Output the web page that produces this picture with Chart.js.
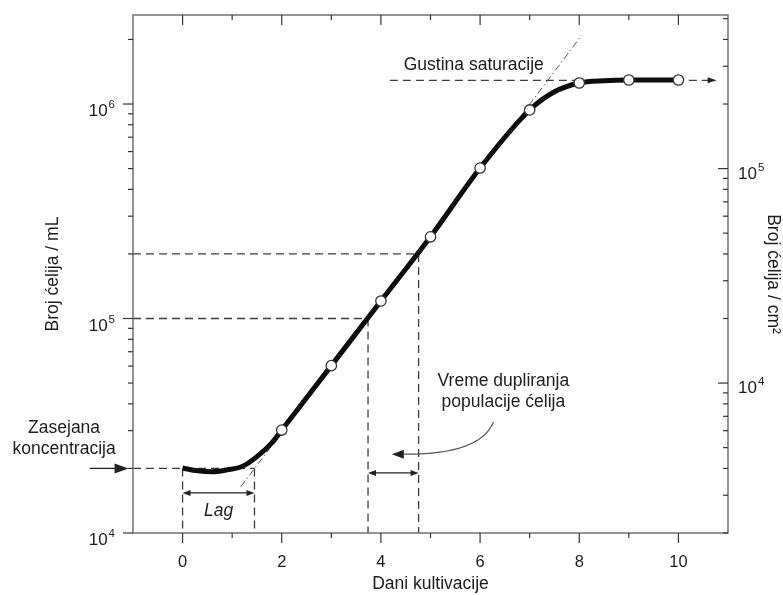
<!DOCTYPE html>
<html>
<head>
<meta charset="utf-8">
<script src="https://cdn.jsdelivr.net/npm/chart.js@4.4.1/dist/chart.umd.min.js"></script>
<style>
  html, body { margin: 0; padding: 0; background: #fff; }
  #wrap { width: 783px; height: 595px; }
</style>
</head>
<body>
<div id="wrap"><canvas id="chart" width="783" height="595"></canvas></div>
<script>
// measured counts (open circles), days of culture
const days = [2, 3, 4, 5, 6, 7, 8, 9, 10];
const cells = [30200, 60300, 120700, 240400, 503000, 938000, 1253000, 1294000, 1294000];

// thick growth curve
const curveDays = [0, 0.3, 0.6, 0.9, 1.2, 1.5, 1.8, 2, 3, 4, 5, 6, 7, 7.5, 8, 8.5, 9, 10];
const curveCells = [20100, 19500, 19300, 19700, 20400, 22700, 26300, 30200, 60300, 120700, 240400, 503000, 938000, 1140000, 1253000, 1285000, 1294000, 1294000];

// dash-dot tangent to the log phase
const tangentDays = [1.17, 8.05];
const tangentCells = [16400, 2090000];

// guide levels
const seedLevel = 20000;
const lagEnd = 1.45;
const doublingDays = [3.74, 4.76];
const doublingCells = [100000, 200000];
const saturationLevel = 1290000;
const saturationDays = [4.18, 10.77];

// axis ticks
const xTicks = [0, 2, 4, 6, 8, 10];
const leftLabels = [1e4, 1e5, 1e6];
const rightLabels = [1e4, 1e5];

const FONT = "'Liberation Sans', Arial, Helvetica, sans-serif";
const INK = '#1c1c1c';
const TXT = 17.5;
Chart.defaults.font.family = FONT;
Chart.defaults.font.size = 16;
Chart.defaults.color = INK;

function seg(x0, y0, x1, y1) {
    return [{ x: x0, y: y0 }, { x: x1, y: y1 }];
}

const guide = { borderColor: '#3c3c3c', borderWidth: 1.3, borderDash: [8, 5], pointRadius: 0, fill: false };

function line(ctx, x0, y0, x1, y1) {
    ctx.beginPath();
    ctx.moveTo(x0, y0);
    ctx.lineTo(x1, y1);
    ctx.stroke();
}

function head(ctx, x, y, ang, len, half) {
    ctx.save();
    ctx.translate(x, y);
    ctx.rotate(ang);
    ctx.beginPath();
    ctx.moveTo(0, 0);
    ctx.lineTo(-len, -half);
    ctx.lineTo(-len, half);
    ctx.closePath();
    ctx.fill();
    ctx.restore();
}

function doubleArrow(ctx, x0, x1, y) {
    line(ctx, x0 + 4, y, x1 - 4, y);
    head(ctx, x0, y, Math.PI, 8, 3);
    head(ctx, x1, y, 0, 8, 3);
}

function power(ctx, x, y, exp, alignRight, dy) {
    ctx.font = '17px ' + FONT;
    const wBase = ctx.measureText('10').width;
    ctx.font = '11.5px ' + FONT;
    const wExp = ctx.measureText(String(exp)).width;
    const x0 = alignRight ? x - wBase - wExp - 1 : x;
    ctx.textAlign = 'left';
    ctx.textBaseline = 'alphabetic';
    ctx.font = '17px ' + FONT;
    ctx.fillText('10', x0, y + dy);
    ctx.font = '11.5px ' + FONT;
    ctx.fillText(String(exp), x0 + wBase + 1, y + dy - 8);
}

const decor = {
    id: 'decor',
    afterDatasetsDraw(chart) {
        const { ctx, chartArea: a, scales } = chart;
        const x = scales.x, y = scales.y, y2 = scales.y2;
        const px = v => x.getPixelForValue(v);
        const py = v => y.getPixelForValue(v);
        ctx.save();

        // frame
        ctx.strokeStyle = '#707070';
        ctx.lineWidth = 1.5;
        ctx.strokeRect(a.left, a.top, a.right - a.left, a.bottom - a.top);

        // tick marks
        ctx.strokeStyle = '#333';
        ctx.lineWidth = 1.2;
        for (let d = 0; d <= 10; d++) {
            const len = d % 2 === 0 ? 10 : 5;
            line(ctx, px(d), a.bottom, px(d), a.bottom + len);
            line(ctx, px(d), a.top, px(d), a.top + len);
        }
        for (let e = 4; e <= 6; e++) {
            for (let m = 1; m <= 9; m++) {
                const v = m * Math.pow(10, e);
                if (v < y.min || v > y.max) continue;
                line(ctx, a.left - (m === 1 ? 10 : 5), py(v), a.left, py(v));
            }
        }
        for (let e = 3; e <= 5; e++) {
            for (let m = 1; m <= 9; m++) {
                const v = m * Math.pow(10, e);
                if (v < y2.min || v > y2.max) continue;
                const p = y2.getPixelForValue(v);
                line(ctx, a.right - (m === 1 ? 10 : 5), p, a.right, p);
            }
        }

        // power-of-ten labels
        ctx.fillStyle = INK;
        leftLabels.forEach(v => power(ctx, a.left - 18, py(v), Math.round(Math.log10(v)), true, 12));
        rightLabels.forEach(v => power(ctx, a.right + 10, y2.getPixelForValue(v), Math.round(Math.log10(v)), false, 10));

        // arrows
        ctx.strokeStyle = '#222';
        ctx.fillStyle = '#222';
        ctx.lineWidth = 1.2;
        const ys = py(seedLevel);
        line(ctx, px(-1.87), ys, px(-1.2), ys);
        head(ctx, px(-1.09), ys, 0, 14, 5);
        doubleArrow(ctx, px(0), px(lagEnd), py(15370));
        doubleArrow(ctx, px(doublingDays[0]), px(doublingDays[1]), py(19050));
        head(ctx, px(saturationDays[1]), py(saturationLevel), 0, 9, 3);

        ctx.strokeStyle = '#555';
        ctx.beginPath();
        ctx.moveTo(px(6.27), py(32900));
        ctx.quadraticCurveTo(px(6.0), py(23100), px(4.45), py(23300));
        ctx.stroke();
        ctx.fillStyle = '#222';
        head(ctx, px(4.22), py(23300), Math.PI, 12, 4.5);

        // texts
        ctx.fillStyle = INK;
        ctx.textBaseline = 'middle';
        ctx.textAlign = 'center';
        ctx.font = TXT + 'px ' + FONT;
        ctx.fillText('Zasejana', px(-2.39), py(30870));
        ctx.fillText('koncentracija', px(-2.39), py(30870) + 21);
        ctx.fillText('Vreme dupliranja', px(6.47), py(51100));
        ctx.fillText('populacije ćelija', px(6.47), py(51100) + 21);
        ctx.textAlign = 'left';
        ctx.fillText('Gustina saturacije', px(4.46), py(1520000));
        ctx.textAlign = 'center';
        ctx.font = 'italic ' + TXT + 'px ' + FONT;
        ctx.fillText('Lag', px(lagEnd / 2), py(12700));
        ctx.restore();
    }
};

new Chart(document.getElementById('chart'), {
    type: 'line',
    data: {
        datasets: [
            {
                label: 'Mjerenja',
                data: days.map((d, i) => ({ x: d, y: cells[i] })),
                showLine: false,
                pointRadius: 5.2,
                pointHoverRadius: 5.2,
                pointBackgroundColor: '#fff',
                pointBorderColor: '#333',
                pointBorderWidth: 1.3
            },
            {
                label: 'Kriva rasta',
                data: curveDays.map((d, i) => ({ x: d, y: curveCells[i] })),
                borderColor: '#0d0d0d',
                borderWidth: 5,
                pointRadius: 0,
                cubicInterpolationMode: 'monotone'
            },
            {
                label: 'Tangenta',
                data: tangentDays.map((d, i) => ({ x: d, y: tangentCells[i] })),
                borderColor: '#555',
                borderWidth: 1,
                borderDash: [7, 3, 1.5, 3],
                pointRadius: 0
            },
            { ...guide, data: seg(-1, seedLevel, lagEnd, seedLevel) },
            { ...guide, data: seg(0, seedLevel, 0, 1e4) },
            { ...guide, data: seg(lagEnd, seedLevel, lagEnd, 1e4) },
            { ...guide, data: seg(-1, doublingCells[0], doublingDays[0], doublingCells[0]) },
            { ...guide, data: seg(-1, doublingCells[1], doublingDays[1], doublingCells[1]) },
            { ...guide, data: seg(doublingDays[0], doublingCells[0], doublingDays[0], 1e4) },
            { ...guide, data: seg(doublingDays[1], doublingCells[1], doublingDays[1], 1e4) },
            { ...guide, data: seg(saturationDays[0], saturationLevel, saturationDays[1] - 0.15, saturationLevel) }
        ]
    },
    options: {
        responsive: false,
        animation: false,
        devicePixelRatio: 1,
        layout: { padding: { left: 43, right: 0, top: 15, bottom: 0 } },
        plugins: { legend: { display: false }, tooltip: { enabled: false } },
        scales: {
            x: {
                type: 'linear',
                position: 'bottom',
                min: -1,
                max: 11,
                grid: { display: false },
                border: { display: false },
                afterBuildTicks: s => { s.ticks = xTicks.map(v => ({ value: v })); },
                ticks: { padding: 12, color: INK, font: { size: 16.5 } },
                title: { display: true, text: 'Dani kultivacije', padding: { top: 0, bottom: 0 }, color: INK, font: { size: TXT } },
                afterFit: s => { s.height = 62; }
            },
            y: {
                type: 'logarithmic',
                position: 'left',
                min: 1e4,
                max: 2.6e6,
                grid: { display: false },
                border: { display: false },
                ticks: { display: false },
                title: { display: true, text: 'Broj ćelija / mL', padding: 0, color: INK, font: { size: TXT } },
                afterFit: s => { s.width = 90; }
            },
            y2: {
                type: 'logarithmic',
                position: 'right',
                min: 2e3,
                max: 5.2e5,
                grid: { display: false },
                border: { display: false },
                ticks: { display: false },
                title: { display: true, text: 'Broj ćelija / cm²', padding: 0, color: INK, font: { size: TXT } },
                afterFit: s => { s.width = 55; }
            }
        }
    },
    plugins: [decor]
});
</script>
</body>
</html>
